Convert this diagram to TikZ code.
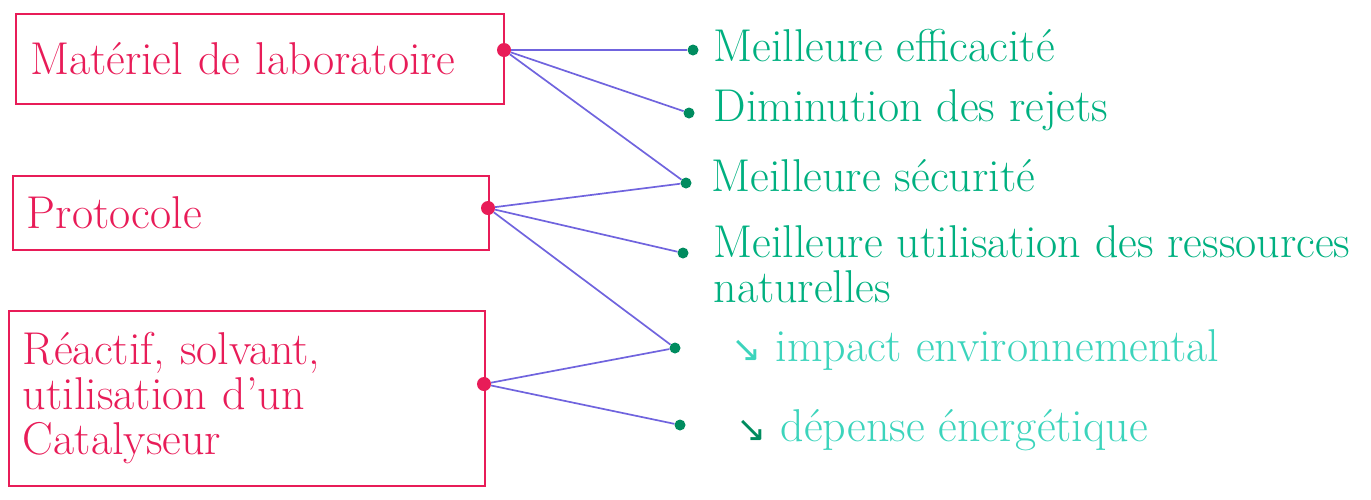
\documentclass[tikz,border=0pt]{standalone}
\usepackage{fontspec}
\newfontfamily\symb{DejaVu Sans}
\usetikzlibrary{positioning}
\definecolor{rouge}{RGB}{232,28,88}
\definecolor{bleu}{RGB}{112,100,222}
\definecolor{vert}{RGB}{0,176,128}
\definecolor{vertfonce}{RGB}{0,140,95}
\definecolor{turquoise}{RGB}{60,212,188}
\tikzset{
	boite/.style={draw=rouge, line width=2pt, rectangle, anchor=north west, align=left, inner xsep=14pt, text=rouge},
	pointrouge/.style={circle, fill=rouge, inner sep=0pt, minimum size=14pt},
	pointvert/.style={circle, fill=vertfonce, inner sep=0pt, minimum size=11pt},
	lien/.style={bleu, line width=1.7pt},
	consequence/.style={anchor=west, text=vert, align=left},
}
\begin{document}
\begin{tikzpicture}[x=1pt, y=-1pt, font=\fontsize{46}{45}\selectfont]
	\useasboundingbox (0,0) rectangle (1371,499);
	% boites de gauche
	\node[boite, minimum width=488pt, minimum height=90pt, text width=460pt] (materiel) at (15,13) {Matériel de laboratoire};
	\node[boite, minimum width=476pt, minimum height=74pt, text width=448pt] (protocole) at (12,175) {Protocole};
	\node[boite, minimum width=476pt, minimum height=175pt, text width=448pt] (reactif) at (8,310) {Réactif, solvant,\\utilisation d'un\\Catalyseur};
	\node[pointrouge] (m) at (504,50) {};
	\node[pointrouge] (p) at (488,208) {};
	\node[pointrouge] (r) at (484,384) {};
	% points de droite
	\node[pointvert] (e1) at (693,50) {};%efficacite
	\node[pointvert] (e2) at (689,113) {};%rejets
	\node[pointvert] (e3) at (686,183) {};%securite
	\node[pointvert] (e4) at (683,253) {};%ressources
	\node[pointvert] (e5) at (675,348) {};%impact
	\node[pointvert] (e6) at (680,425) {};%depense
	\node[consequence] (c1) at (710,46) {Meilleure efficacité};
	\node[consequence] (c2) at (710,110) {Diminution des rejets};
	\node[consequence] (c3) at (708,176) {Meilleure sécurité};
	\node[consequence, anchor=north west] (c4) at (710,222) {Meilleure utilisation des ressources\\naturelles};
	\node[consequence, text=turquoise] (c5) at (728,350) {{\symb\fontsize{36}{36}\selectfont ↘} impact environnemental};
	\node[consequence, text=turquoise] (c6) at (733,430) {{\symb\fontsize{36}{36}\selectfont\color{vertfonce}↘} dépense énergétique};
	% liaisons
	\draw[lien] (m) -- (e1);
	\draw[lien] (m) -- (e2);
	\draw[lien] (m) -- (e3);
	\draw[lien] (p) -- (e3);
	\draw[lien] (p) -- (e4);
	\draw[lien] (p) -- (e5);
	\draw[lien] (r) -- (e5);
	\draw[lien] (r) -- (e6);
\end{tikzpicture}
\end{document}
